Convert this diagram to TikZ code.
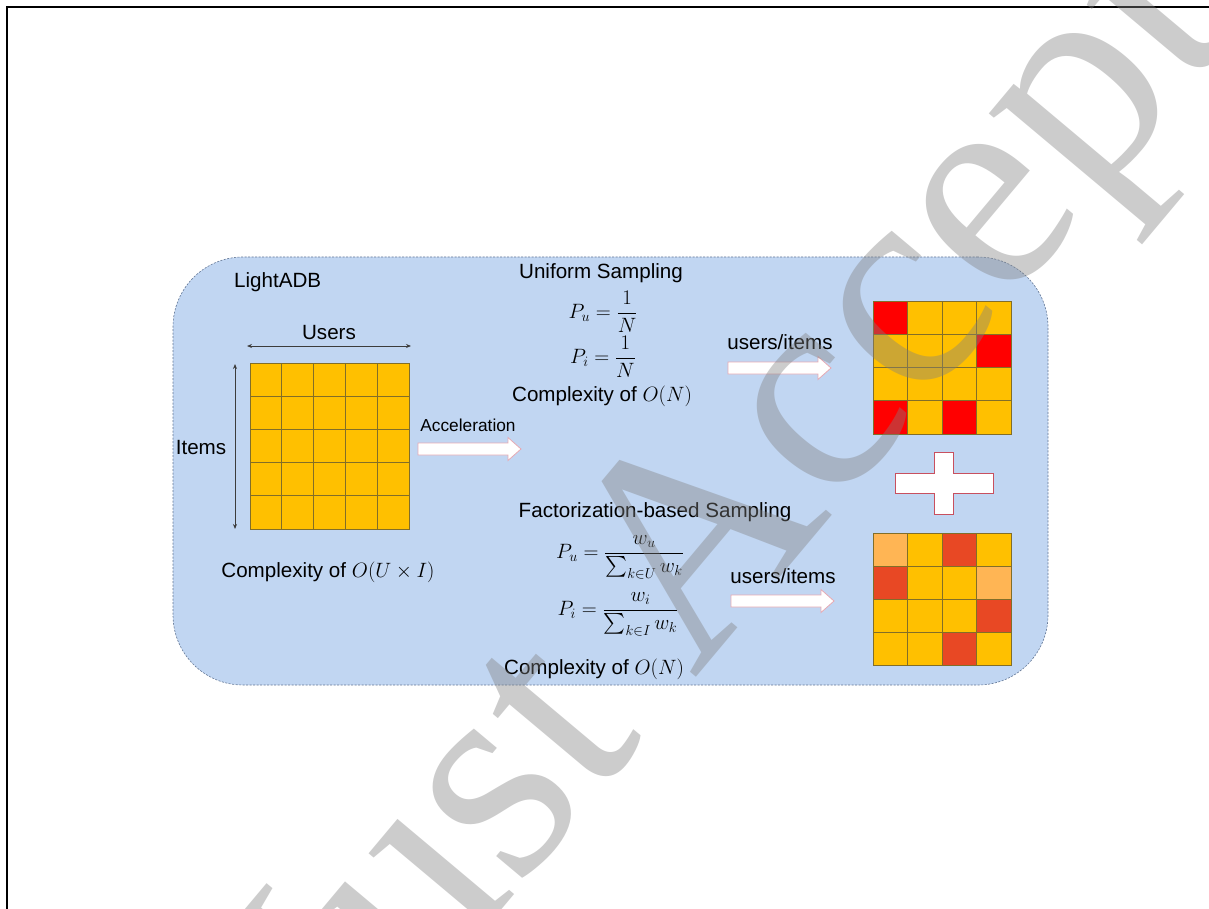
\documentclass[tikz,border=0pt]{standalone}
\usepackage{amsmath}
\usepackage{fontspec}
\setmainfont{Liberation Sans}
\newfontfamily\wmfont{Liberation Serif}
\usetikzlibrary{arrows.meta}
\definecolor{boxblue}{RGB}{193,214,242}
\definecolor{boxline}{RGB}{100,120,150}
\definecolor{cy}{RGB}{255,192,0}
\definecolor{cr}{RGB}{255,0,0}
\definecolor{clo}{RGB}{255,181,84}
\definecolor{cor}{RGB}{232,72,36}
\definecolor{gridline}{RGB}{130,110,40}
\definecolor{arrline}{RGB}{230,170,180}
\definecolor{plusline}{RGB}{200,80,95}
\definecolor{darkline}{RGB}{60,60,60}
\tikzset{
  txt/.style={inner sep=0pt, font=\fontsize{20.6}{24}\selectfont},
  mtxt/.style={inner sep=0pt, font=\fontsize{22}{26}\selectfont},
  smalltxt/.style={inner sep=0pt, font=\fontsize{17.3}{20}\selectfont},
  cell/.style={draw=gridline, line width=0.8pt},
  dimarrow/.style={{Stealth[length=5pt,width=4pt]}-{Stealth[length=5pt,width=4pt]}, draw=darkline, line width=0.9pt},
  blockarrow/.pic={\draw[fill=white, draw=arrline, line width=0.8pt]
     (0,-6) -- (90,-6) -- (90,-11.5) -- (103,0) -- (90,11.5) -- (90,6) -- (0,6) -- cycle;},
  wmark/.style={inner sep=0pt, text=gray, opacity=0.4, font=\wmfont\fontsize{300}{300}\selectfont}
}
\begin{document}
\begin{tikzpicture}[x=1pt,y=-1pt]
\useasboundingbox (0,0) rectangle (1209,909);
\fill[white] (0,0) rectangle (1209,909);
% page frame
\draw[line width=2pt] (7,909) -- (7,7) -- (1209,7);
% main box
\node[draw=boxline, fill=boxblue, dash pattern=on 2pt off 1.5pt, line width=0.6pt,
      rounded corners=70pt, minimum width=875pt, minimum height=428pt] (box) at (610.5,471) {};
\node[txt, anchor=west] (title) at (234,282) {LightADB};
% left grid
\node[minimum width=159pt, minimum height=166pt, inner sep=0pt] (g0) at (329.5,446) {};
\foreach \i in {0,...,4}{
  \foreach \j in {0,...,4}{
    \draw[cell, fill=cy] (250+\i*31.8, 363+\j*33.2) rectangle ++(31.8,33.2);
  }
}
\node[txt] (users) at (329,333) {Users};
\coordinate (uL) at (247,346);
\coordinate (uR) at (411,346);
\draw[dimarrow] (uL) -- (uR);
\node[txt] (items) at (201,448) {Items};
\coordinate (iT) at (235,364);
\coordinate (iB) at (235,529);
\draw[dimarrow] (iT) -- (iB);
\node[txt] (cx0) at (328,572) {Complexity of $O(U \times I)$};
% acceleration
\node[smalltxt] (acc) at (468,425) {Acceleration};
\pic at (418,449) {blockarrow};
% uniform sampling
\node[txt] (us) at (601,273) {Uniform Sampling};
\node[mtxt] (pu1) at (603,312) {$P_u = \dfrac{1}{N}$};
\node[mtxt] (pi1) at (603,357) {$P_i = \dfrac{1}{N}$};
\node[txt] (cx1) at (602,396) {Complexity of $O(N)$};
\node[txt] (ui1) at (780,342) {users/items};
\pic at (728,368) {blockarrow};
% top-right grid
\node[minimum width=138pt, minimum height=133pt, inner sep=0pt] (g1) at (942,367.5) {};
\foreach \c [count=\n from 0] in {cr,cy,cy,cy, cy,cy,cy,cr, cy,cy,cy,cy, cr,cy,cr,cy}{
  \pgfmathtruncatemacro\col{mod(\n,4)}
  \pgfmathtruncatemacro\row{\n/4}
  \draw[cell, fill=\c] (873+\col*34.5, 301+\row*33.25) rectangle ++(34.5,33.25);
}
% plus
\draw[fill=white, draw=plusline, line width=0.8pt]
  (895,473) -- (934,473) -- (934,452) -- (953,452) -- (953,473) -- (993,473)
  -- (993,493) -- (953,493) -- (953,514) -- (934,514) -- (934,493) -- (895,493) -- cycle;
% factorization sampling
\node[txt] (fs) at (655,512) {Factorization-based Sampling};
\node[mtxt] (pu2) at (620,557) {$P_u = \dfrac{w_u}{\sum_{k\in U} w_k}$};
\node[mtxt] (pi2) at (618,614) {$P_i = \dfrac{w_i}{\sum_{k\in I} w_k}$};
\node[txt] (cx2) at (594,669) {Complexity of $O(N)$};
\node[txt] (ui2) at (783,576) {users/items};
\pic at (731,601) {blockarrow};
% bottom-right grid
\node[minimum width=138pt, minimum height=132pt, inner sep=0pt] (g2) at (942,599) {};
\foreach \c [count=\n from 0] in {clo,cy,cor,cy, cor,cy,cy,clo, cy,cy,cy,cor, cy,cy,cor,cy}{
  \pgfmathtruncatemacro\col{mod(\n,4)}
  \pgfmathtruncatemacro\row{\n/4}
  \draw[cell, fill=\c] (873+\col*34.5, 533+\row*33) rectangle ++(34.5,33);
}
% watermark
\begin{scope}
\clip (0,0) rectangle (1209,909);
\node[wmark, anchor=base west, rotate=50] (wm) at (346,1095) {Just Accepted};
\end{scope}
\end{tikzpicture}
\end{document}
